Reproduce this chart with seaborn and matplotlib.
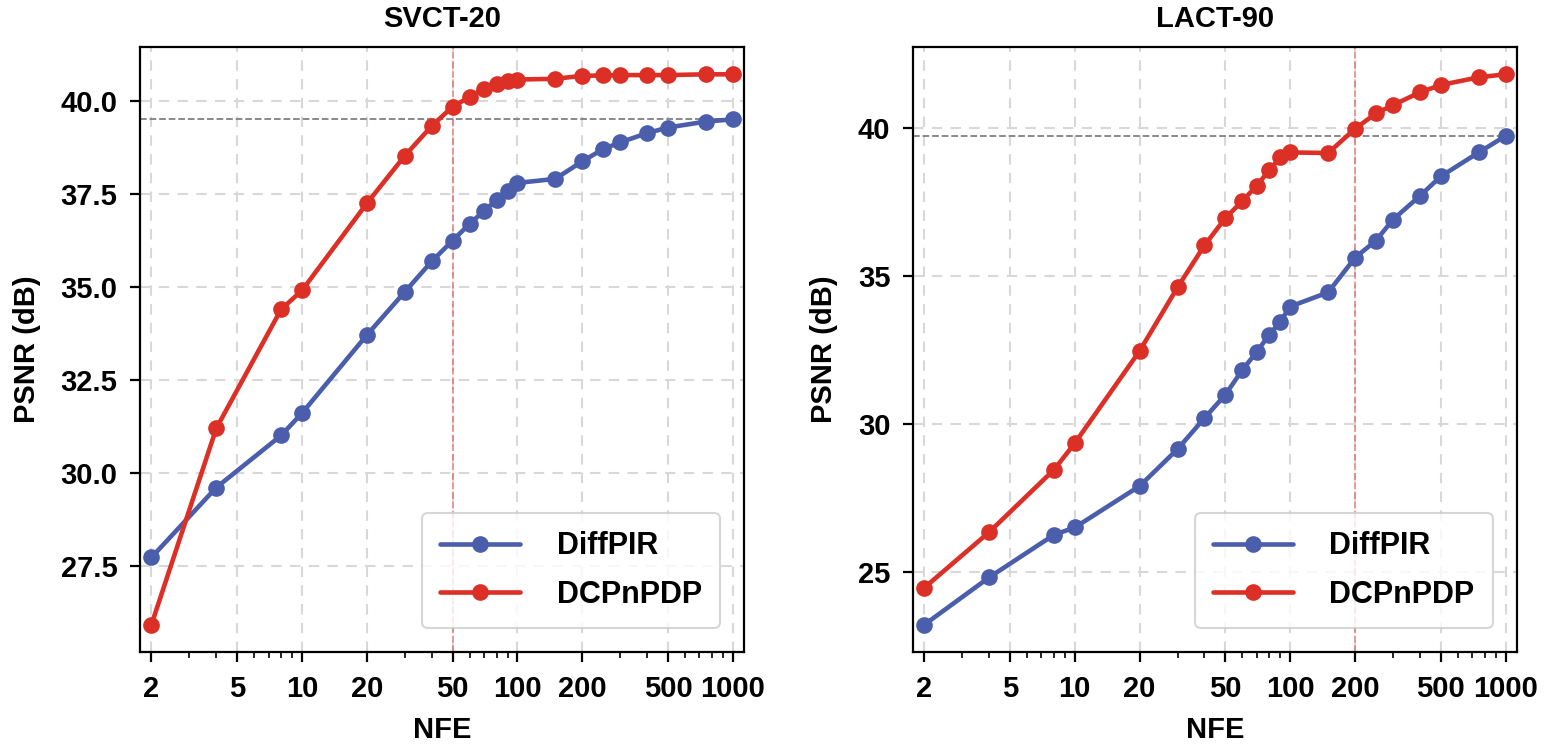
import numpy as np
import pandas as pd
import matplotlib
matplotlib.use("Agg")
import matplotlib.pyplot as plt
import matplotlib.ticker as mticker
import seaborn as sns

nfe = [2, 4, 8, 10, 20, 30, 40, 50, 60, 70, 80, 90, 100, 150, 200, 250, 300, 400, 500, 750, 1000]

svct_diffpir = [27.72, 29.60, 31.00, 31.60, 33.70, 34.86, 35.68, 36.24, 36.69, 37.04, 37.33, 37.58,
                37.79, 37.90, 38.37, 38.70, 38.88, 39.13, 39.28, 39.44, 39.50]
svct_dcpnpdp = [25.91, 31.19, 34.39, 34.90, 37.24, 38.52, 39.32, 39.84, 40.10, 40.32, 40.46, 40.52,
                40.57, 40.59, 40.67, 40.68, 40.69, 40.69, 40.69, 40.71, 40.71]

lact_diffpir = [23.22, 24.82, 26.26, 26.51, 27.91, 29.16, 30.21, 31.00, 31.84, 32.45, 33.03, 33.47,
                33.98, 34.46, 35.63, 36.21, 36.92, 37.72, 38.38, 39.19, 39.75]
lact_dcpnpdp = [24.47, 26.35, 28.46, 29.36, 32.48, 34.63, 36.05, 36.97, 37.55, 38.07, 38.59, 39.02,
                39.19, 39.17, 39.99, 40.51, 40.79, 41.22, 41.47, 41.73, 41.83]

xticks = [2, 5, 10, 20, 50, 100, 200, 500, 1000]

panels = [
    ("SVCT-20", svct_diffpir, svct_dcpnpdp, 50, [27.5, 30.0, 32.5, 35.0, 37.5, 40.0], "{:.1f}"),
    ("LACT-90", lact_diffpir, lact_dcpnpdp, 200, [25, 30, 35, 40], "{:.0f}"),
]

palette = {"DiffPIR": "#4b5eab", "DCPnPDP": "#dc2f26"}

sns.set_theme(style="whitegrid")
plt.rcParams['font.family'] = ['Liberation Sans', 'DejaVu Sans']
plt.rcParams['font.weight'] = 'bold'
plt.rcParams['text.color'] = 'black'
plt.rcParams['axes.labelcolor'] = 'black'

fig, axes = plt.subplots(1, 2, figsize=(15.53, 7.55), dpi=100)
fig.subplots_adjust(left=0.090, right=0.977, bottom=0.136, top=0.938, wspace=0.278)

for ax, (title, diff, dcp, vline, yticks, fmt) in zip(axes, panels):
    df = pd.DataFrame({
        "NFE": nfe * 2,
        "PSNR": diff + dcp,
        "Method": ["DiffPIR"] * len(nfe) + ["DCPnPDP"] * len(nfe),
    })
    sns.lineplot(data=df, x="NFE", y="PSNR", hue="Method", palette=palette, marker="o",
                 markersize=12, markeredgewidth=0, linewidth=3.3, ax=ax)
    ax.set_xscale("log")
    ax.margins(x=0.02)

    # reference lines
    ax.axhline(diff[-1], color="gray", linestyle="--", linewidth=1.3, zorder=1)
    ax.axvline(vline, color="#e06060", linestyle="--", linewidth=1.3, alpha=0.7, zorder=1)

    ax.xaxis.set_major_locator(mticker.FixedLocator(xticks))
    ax.xaxis.set_major_formatter(mticker.FixedFormatter([str(t) for t in xticks]))
    ax.xaxis.set_minor_locator(mticker.LogLocator(base=10, subs=np.arange(2, 10)))
    ax.xaxis.set_minor_formatter(mticker.NullFormatter())
    ax.set_yticks(yticks)
    ax.set_yticklabels([fmt.format(t) for t in yticks])

    ax.grid(True, which="major", linestyle=(0, (5, 4)), color="#d8d8d8", linewidth=1.5)
    ax.grid(False, which="minor")
    for s in ax.spines.values():
        s.set_color("black")
        s.set_linewidth(1.6)
    ax.tick_params(axis="both", which="major", direction="out", length=7, width=1.6,
                   labelsize=21, colors="black", bottom=True, left=True, pad=9)
    ax.tick_params(axis="x", which="minor", direction="out", length=4, width=1.2,
                   colors="black", bottom=True)
    for lab in ax.get_xticklabels() + ax.get_yticklabels():
        lab.set_fontweight("bold")

    ax.set_title(title, fontsize=21, fontweight="bold", pad=14, color="black")
    ax.set_xlabel("NFE", fontsize=21, fontweight="bold", labelpad=10)
    ax.set_ylabel("PSNR (dB)", fontsize=21, fontweight="bold", labelpad=14)

    leg = ax.legend(loc="lower right", fontsize=22, frameon=True, handlelength=2.6,
                    borderpad=0.6, labelspacing=0.6, handletextpad=1.2,
                    borderaxespad=0.8, fancybox=True)
    leg.get_frame().set_edgecolor("#cccccc")
    leg.get_frame().set_linewidth(1.5)
    for t in leg.get_texts():
        t.set_fontweight("bold")
        t.set_color("black")

plt.savefig("out.png", dpi=100)
